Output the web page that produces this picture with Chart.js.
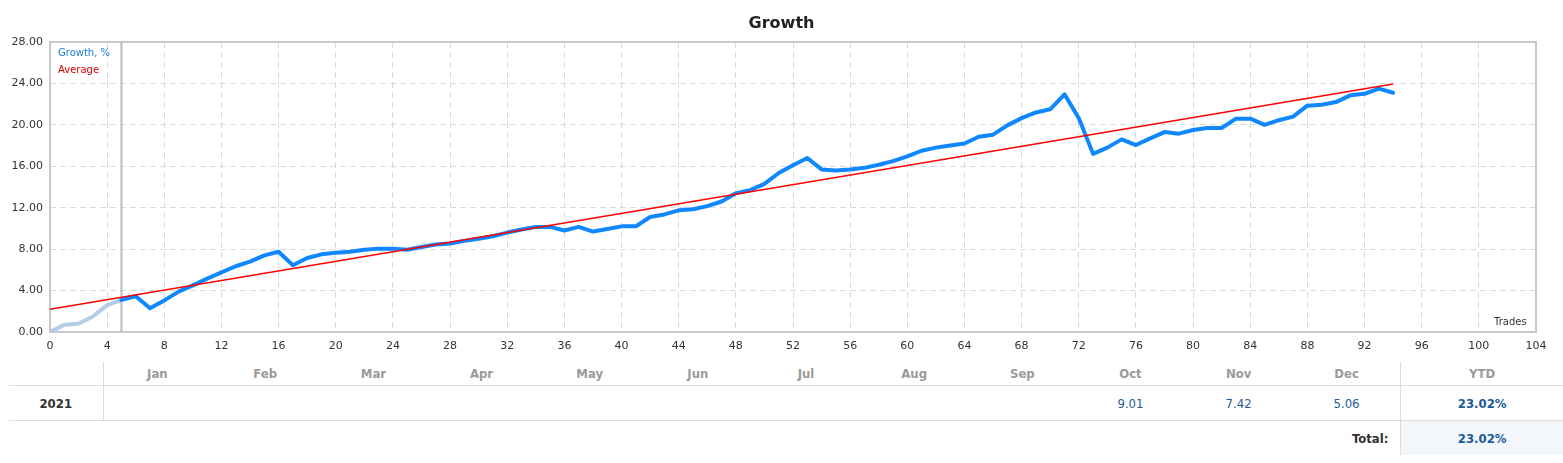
<!DOCTYPE html>
<html>
<head>
<meta charset="utf-8">
<script src="https://cdn.jsdelivr.net/npm/chart.js@4"></script>
<style>
  body { margin: 0; background: #fff; font-family: "DejaVu Sans", sans-serif; }
  #wrap { position: relative; width: 1563px; height: 463px; }
  #title { position: absolute; left: 0; width: 1563px; top: 13px; text-align: center;
           font: bold 16px "DejaVu Sans", sans-serif; color: #222; }
  .leg { position: absolute; left: 58px; font: 10px "DejaVu Sans", sans-serif; }
  #trades { position: absolute; left: 1494px; top: 316px; font: 10px "DejaVu Sans", sans-serif; color: #333; }
  table { position: absolute; left: 9px; top: 362px; width: 1554px; border-collapse: collapse; table-layout: fixed;
          font-family: "DejaVu Sans Condensed", "DejaVu Sans", sans-serif; font-size: 13px; }
  td { text-align: center; padding: 0; }
  tr.head td { height: 23px; color: #9a9a9a; font-weight: bold; }
  tr.year td { height: 34px; border-top: 1px solid #dcdcdc; border-bottom: 1px solid #dcdcdc; color: #1f5a96; }
  tr.total td { height: 34px; }
  .sep { border-left: 1px solid #dcdcdc; }
  .yr { font-weight: bold; color: #333 !important; }
  .ytd { font-weight: bold; color: #1a5a96 !important; }
  .tot { background: #f3f7fb; }
</style>
</head>
<body>
<div id="wrap">
  <canvas id="growthChart" width="1563" height="360"></canvas>
  <div id="title">Growth</div>
  <div class="leg" style="top:47px;color:#1c7ad8">Growth, %</div>
  <div class="leg" style="top:64px;color:#e00000">Average</div>
  <div id="trades">Trades</div>
  <table id="tbl"></table>
</div>
<script>
// growth curve, one value per trade
const growth = [0, 0.7, 0.8, 1.5, 2.6, 3.1, 3.45, 2.3, 3.05, 3.9,
  4.5, 5.15, 5.75, 6.35, 6.8, 7.4, 7.75, 6.45, 7.15, 7.5,
  7.65, 7.75, 7.95, 8.05, 8.05, 7.95, 8.2, 8.45, 8.55, 8.8,
  9.0, 9.25, 9.6, 9.9, 10.15, 10.15, 9.8, 10.15, 9.7, 9.95,
  10.2, 10.2, 11.1, 11.35, 11.75, 11.85, 12.15, 12.6, 13.4, 13.7,
  14.3, 15.35, 16.1, 16.8, 15.7, 15.6, 15.7, 15.85, 16.15, 16.5,
  16.95, 17.5, 17.8, 18.0, 18.2, 18.85, 19.05, 19.95, 20.65, 21.2,
  21.5, 22.95, 20.65, 17.2, 17.8, 18.6, 18.05, 18.7, 19.3, 19.15,
  19.5, 19.7, 19.7, 20.6, 20.6, 20.0, 20.45, 20.8, 21.85, 21.95,
  22.2, 22.85, 23.0, 23.5, 23.1];
const trades = growth.map((v, i) => i);

// average trend line end points
const averageX = [0, 94];
const averageY = [2.2, 23.95];

// first trades before the start marker are drawn pale
const startTrade = 5;

const months = ['Jan', 'Feb', 'Mar', 'Apr', 'May', 'Jun', 'Jul', 'Aug', 'Sep', 'Oct', 'Nov', 'Dec'];
const year = '2021';
const monthValues = ['', '', '', '', '', '', '', '', '', '9.01', '7.42', '5.06'];
const ytd = '23.02%';
const total = '23.02%';

// table below the chart
let html = '<colgroup><col style="width:94px">';
months.forEach(() => { html += '<col style="width:108.17px">'; });
html += '<col style="width:162px"></colgroup>';
html += '<tr class="head"><td></td>';
months.forEach((m, i) => { html += '<td' + (i == 0 ? ' class="sep"' : '') + '>' + m + '</td>'; });
html += '<td class="sep">YTD</td></tr>';
html += '<tr class="year"><td class="yr">' + year + '</td>';
monthValues.forEach((v, i) => { html += '<td' + (i == 0 ? ' class="sep"' : '') + '>' + v + '</td>'; });
html += '<td class="sep ytd">' + ytd + '</td></tr>';
html += '<tr class="total"><td colspan="13" style="text-align:right;padding-right:12px;font-weight:bold;color:#333">Total:</td>';
html += '<td class="sep ytd tot">' + total + '</td></tr>';
document.getElementById('tbl').innerHTML = html;

const frame = {
  id: 'frame',
  beforeDatasetsDraw(chart) {
    const a = chart.chartArea, ctx = chart.ctx;
    ctx.save();
    ctx.strokeStyle = '#c8c8c8';
    ctx.lineWidth = 2;
    ctx.strokeRect(a.left, a.top, a.right - a.left, a.bottom - a.top);
    ctx.restore();
  }
};

const blue = '#0f87ff', pale = '#b3cde8';

new Chart(document.getElementById('growthChart'), {
  type: 'line',
  data: {
    datasets: [{
      label: 'Average',
      data: averageX.map((x, i) => ({ x: x, y: averageY[i] })),
      borderColor: '#ff0000',
      borderWidth: 1.6,
      pointRadius: 0
    }, {
      label: 'Growth, %',
      data: trades.map((t, i) => ({ x: t, y: growth[i] })),
      borderColor: blue,
      borderWidth: 4,
      borderJoinStyle: 'round',
      borderCapStyle: 'round',
      pointRadius: 0,
      tension: 0,
      segment: {
        borderColor: ctx => ctx.p1DataIndex <= startTrade ? pale : blue
      }
    }, {
      label: 'start',
      data: [{ x: startTrade, y: 0 }, { x: startTrade, y: 28 }],
      borderColor: '#bdbdbd',
      borderWidth: 2,
      pointRadius: 0
    }]
  },
  options: {
    responsive: false,
    animation: false,
    layout: { padding: { top: 42, right: 27, left: 0, bottom: 0 } },
    plugins: { legend: { display: false }, tooltip: { enabled: false } },
    scales: {
      x: {
        type: 'linear', min: 0, max: 104,
        ticks: { stepSize: 4, color: '#333', font: { size: 11, family: 'DejaVu Sans' }, padding: 8, maxRotation: 0 },
        grid: { color: '#dadada', drawTicks: false },
        border: { display: false, dash: [6, 4] },
        afterFit: s => { s.height = 28; }
      },
      y: {
        min: 0, max: 28,
        ticks: { stepSize: 4, color: '#333', font: { size: 11, family: 'DejaVu Sans' }, padding: 7,
                 callback: v => v.toFixed(2) },
        grid: { color: '#dadada', drawTicks: false },
        border: { display: false, dash: [6, 4] },
        afterFit: s => { s.width = 50; }
      }
    }
  },
  plugins: [frame]
});
</script>
</body>
</html>
